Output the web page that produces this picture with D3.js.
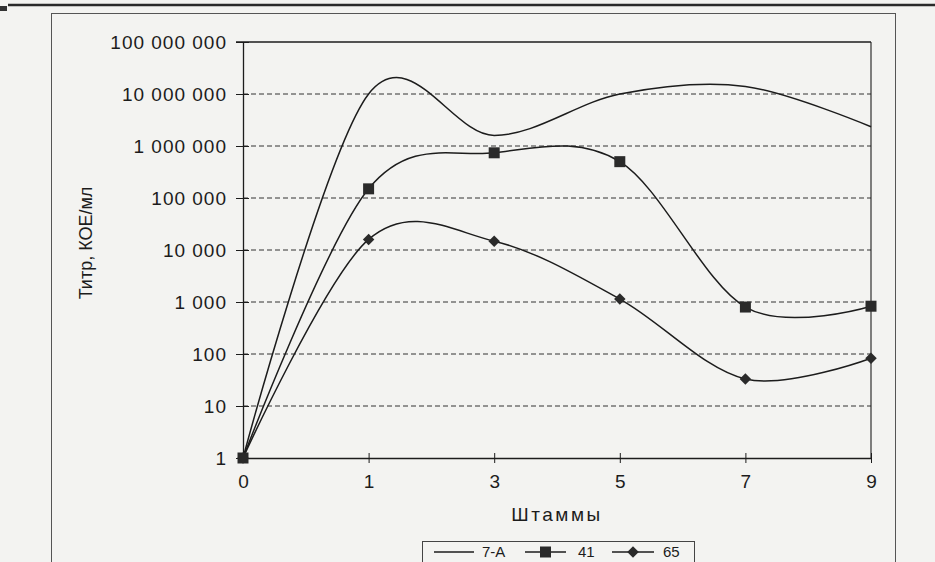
<!DOCTYPE html>
<html>
<head>
<meta charset="utf-8">
<script src="https://cdn.jsdelivr.net/npm/d3@7"></script>
<style>
  body { margin: 0; background: #f3f3f1; }
  svg { display: block; font-family: "Liberation Sans", Arial, sans-serif; }
</style>
</head>
<body>
<svg id="chart" width="935" height="562"></svg>
<script>
// strains (x categories) and titres, КОЕ/мл
var categories = ["0", "1", "3", "5", "7", "9"];
var series7A = [1, 10000000, 1600000, 10000000, 14000000, 2350000];
var series41 = [1, 150000, 740000, 500000, 800, 830];
var series65 = [1, 16000, 14800, 1140, 33, 83];
var yTicks = [1, 10, 100, 1000, 10000, 100000, 1000000, 10000000, 100000000];
var legendNames = ["7-A", "41", "65"];

var svg = d3.select("#chart");
var ink = "#1c1c1c";

var x = d3.scalePoint().domain(categories).range([243, 871]);
var y = d3.scaleLog().domain([1, 100000000]).range([458, 42]);

var loc = d3.formatLocale({ decimal: ",", thousands: " ", grouping: [3], currency: ["", ""] });
var fmt = loc.format(",");

// scan rule at the very top
svg.append("rect").attr("x", 0).attr("y", 6).attr("width", 7).attr("height", 5).attr("fill", "#333");
svg.append("line").attr("x1", 8).attr("x2", 935).attr("y1", 5).attr("y2", 5)
  .attr("stroke", "#2a2a2a").attr("stroke-width", 2.5);

// chart area frame
svg.append("rect").attr("x", 51.5).attr("y", 13.5).attr("width", 844).attr("height", 600)
  .attr("fill", "none").attr("stroke", "#555").attr("stroke-width", 1);

// grid
svg.append("g").selectAll("line")
  .data(yTicks.filter(function(d) { return d > 1 && d < 100000000; }))
  .join("line")
  .attr("x1", 243).attr("x2", 871)
  .attr("y1", function(d) { return y(d); }).attr("y2", function(d) { return y(d); })
  .attr("stroke", "#333").attr("stroke-width", 1).attr("stroke-dasharray", "5,3");

// plot border top / right
svg.append("line").attr("x1", 236).attr("x2", 871).attr("y1", y(100000000)).attr("y2", y(100000000))
  .attr("stroke", ink).attr("stroke-width", 1.3);
svg.append("line").attr("x1", 871).attr("x2", 871).attr("y1", y(100000000)).attr("y2", y(1))
  .attr("stroke", ink).attr("stroke-width", 1.1);

// y axis
var yAxis = d3.axisLeft(y).tickValues(yTicks).tickFormat(fmt).tickSizeInner(7).tickSizeOuter(0).tickPadding(9);
var gy = svg.append("g").attr("transform", "translate(243,0)").call(yAxis);
gy.select(".domain").attr("stroke", ink).attr("stroke-width", 1.3);
gy.selectAll(".tick line").attr("stroke", ink).attr("x2", -7).attr("x1", 6);
gy.selectAll(".tick text").attr("font-size", 19).attr("letter-spacing", 1).attr("fill", ink)
  .attr("font-family", "Liberation Sans, Arial, sans-serif");

// x axis
var xAxis = d3.axisBottom(x).tickSizeInner(5).tickSizeOuter(0).tickPadding(12);
var gx = svg.append("g").attr("transform", "translate(0,458)").call(xAxis);
gx.select(".domain").attr("stroke", ink).attr("stroke-width", 1.3);
gx.selectAll(".tick line").attr("stroke", ink).attr("y1", -5).attr("y2", 5);
gx.selectAll(".tick text").attr("font-size", 19).attr("fill", ink).attr("font-family", "Liberation Sans, Arial, sans-serif");

// axis titles
svg.append("text").attr("x", 557).attr("y", 521).attr("text-anchor", "middle")
  .attr("font-size", 19).attr("letter-spacing", 2.5).attr("fill", ink).text("Штаммы");
svg.append("text").attr("transform", "translate(92,243) rotate(-90)").attr("text-anchor", "middle")
  .attr("font-size", 18).attr("fill", ink).text("Титр, КОЕ/мл");

// lines
var line = d3.line()
  .x(function(d, i) { return x(categories[i]); })
  .y(function(d) { return y(d); })
  .curve(d3.curveCatmullRom.alpha(0));

[series7A, series41, series65].forEach(function(s) {
  svg.append("path").datum(s).attr("d", line)
    .attr("fill", "none").attr("stroke", ink).attr("stroke-width", 1.5);
});

var square = d3.symbol().type(d3.symbolSquare).size(121);
var diamond = d3.symbol().type(d3.symbolSquare).size(66);

svg.append("g").selectAll("path").data(series41).join("path")
  .attr("transform", function(d, i) { return "translate(" + x(categories[i]) + "," + y(d) + ")"; })
  .attr("d", square).attr("fill", "#2a2a2a");
svg.append("g").selectAll("path").data(series65).join("path")
  .attr("transform", function(d, i) { return "translate(" + x(categories[i]) + "," + y(d) + ") rotate(45)"; })
  .attr("d", diamond).attr("fill", "#2a2a2a");

// legend (sits at the bottom edge of the scan)
var lg = svg.append("g");
lg.append("rect").attr("x", 422.5).attr("y", 541.5).attr("width", 272).attr("height", 30)
  .attr("fill", "none").attr("stroke", "#444").attr("stroke-width", 1);
var items = [
  { name: legendNames[0], x0: 434, x1: 474, tx: 482, mark: null, rot: 0 },
  { name: legendNames[1], x0: 525, x1: 566, tx: 578, mark: square, rot: 0 },
  { name: legendNames[2], x0: 612, x1: 654, tx: 663, mark: diamond, rot: 45 }
];
items.forEach(function(it) {
  lg.append("line").attr("x1", it.x0).attr("x2", it.x1).attr("y1", 552).attr("y2", 552)
    .attr("stroke", ink).attr("stroke-width", 1.5);
  if (it.mark) {
    lg.append("path").attr("transform", "translate(" + (it.x0 + it.x1) / 2 + ",552) rotate(" + it.rot + ")")
      .attr("d", it.mark).attr("fill", "#2a2a2a");
  }
  lg.append("text").attr("x", it.tx).attr("y", 557).attr("font-size", 15).attr("fill", ink).text(it.name);
});
</script>
</body>
</html>
